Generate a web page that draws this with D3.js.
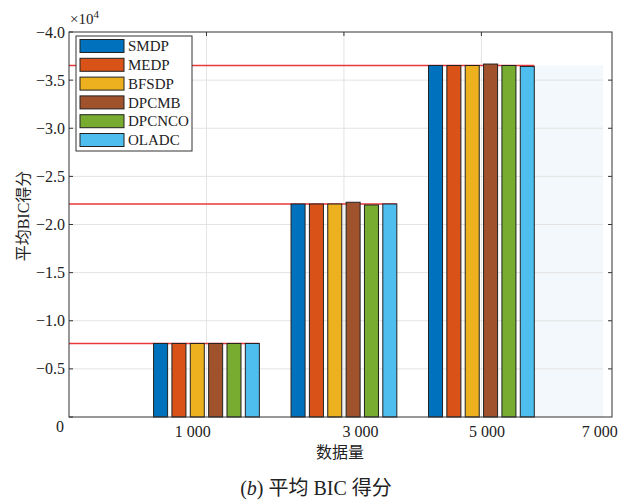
<!DOCTYPE html>
<html>
<head>
<meta charset="utf-8">
<script src="https://cdn.jsdelivr.net/npm/d3@7"></script>
<style>
  body { margin: 0; background: #fff; }
  text { font-family: "Liberation Serif", "Noto Sans CJK SC", serif; fill: #222; }
</style>
</head>
<body>
<svg id="chart" width="627" height="502"></svg>
<script>
// data (values in units of 1e4)
let methods = ["SMDP", "MEDP", "BFSDP", "DPCMB", "DPCNCO", "OLADC"]
let groups = [1, 2, 3]
let smdp   = [-0.764, -2.213, -3.652]
let medp   = [-0.764, -2.213, -3.652]
let bfsdp  = [-0.764, -2.213, -3.652]
let dpcmb  = [-0.764, -2.231, -3.667]
let dpcnco = [-0.764, -2.203, -3.652]
let oladc  = [-0.764, -2.213, -3.642]
let xTickLabels = ["1 000", "3 000", "5 000", "7 000"]
let xTickSpots = [0.9, 2.12, 3.04, 3.86]
let yTicks = [0, -0.5, -1, -1.5, -2, -2.5, -3, -3.5, -4]

let series = [smdp, medp, bfsdp, dpcmb, dpcnco, oladc]
let colors = ["#0072bd", "#d95319", "#edb120", "#a0522d", "#77ac30", "#4dbeee"]

let svg = d3.select("#chart")

let plotVars = ({ left: 69, right: 612, top: 32, bottom: 417, gridEnd: 3.885 })

let xScale = d3.scaleLinear().domain([0, 3.95]).range([plotVars.left, plotVars.right])
let yScale = d3.scaleLinear().domain([0, -4]).range([plotVars.bottom, plotVars.top])

let barPitch = 0.1335
let barWidth = 0.102
let groupEnd = g => g + 2.5 * barPitch + barWidth / 2

// light fill behind the last group
svg.append("rect")
    .attr("x", xScale(groupEnd(3)))
    .attr("y", yScale(d3.min(smdp)))
    .attr("width", xScale(plotVars.gridEnd) - xScale(groupEnd(3)))
    .attr("height", yScale(0) - yScale(d3.min(smdp)))
    .style("fill", "#f2f8fb")

// gridlines
svg.append("g").selectAll("line")
    .data(yTicks.filter(d => d != 0 && d != -4))
    .enter().append("line")
    .attr("x1", xScale(0)).attr("x2", xScale(plotVars.gridEnd))
    .attr("y1", d => yScale(d)).attr("y2", d => yScale(d))
    .style("stroke", "#e3e3e3").style("stroke-width", 1)

svg.append("g").selectAll("line")
    .data(groups)
    .enter().append("line")
    .attr("x1", d => xScale(d)).attr("x2", d => xScale(d))
    .attr("y1", yScale(-4)).attr("y2", yScale(0))
    .style("stroke", "#e3e3e3").style("stroke-width", 1)

// red reference lines
svg.append("g").selectAll("line")
    .data(smdp)
    .enter().append("line")
    .attr("x1", xScale(0))
    .attr("x2", (d, j) => xScale(groupEnd(groups[j])))
    .attr("y1", d => yScale(d)).attr("y2", d => yScale(d))
    .style("stroke", "#e8393a").style("stroke-width", 1.5)

// bars
series.forEach(function (vals, i) {
    svg.append("g").selectAll("rect")
        .data(vals)
        .enter().append("rect")
        .attr("x", (d, j) => xScale(groups[j] + (i - 2.5) * barPitch - barWidth / 2))
        .attr("width", xScale(barWidth) - xScale(0))
        .attr("y", d => yScale(d))
        .attr("height", d => yScale(0) - yScale(d))
        .style("fill", colors[i])
        .style("stroke", "#222")
        .style("stroke-width", 1)
})

// frame
svg.append("rect")
    .attr("x", plotVars.left).attr("y", plotVars.top)
    .attr("width", plotVars.right - plotVars.left)
    .attr("height", plotVars.bottom - plotVars.top)
    .style("fill", "none").style("stroke", "#333").style("stroke-width", 1)

// y axis ticks and labels
let yAxis = svg.append("g")
yAxis.selectAll("line.l")
    .data(yTicks).enter().append("line")
    .attr("class", "l")
    .attr("x1", plotVars.left).attr("x2", plotVars.left + 4)
    .attr("y1", d => yScale(d)).attr("y2", d => yScale(d))
    .style("stroke", "#333")
yAxis.selectAll("line.r")
    .data(yTicks.filter(d => d != 0 && d != -4)).enter().append("line")
    .attr("class", "r")
    .attr("x1", plotVars.right - 4).attr("x2", plotVars.right)
    .attr("y1", d => yScale(d)).attr("y2", d => yScale(d))
    .style("stroke", "#333")
yAxis.selectAll("text")
    .data(yTicks).enter().append("text")
    .attr("x", d => d == 0 ? 64 : 65)
    .attr("y", d => yScale(d))
    .attr("dy", d => d == 0 ? "0.95em" : "0.35em")
    .style("text-anchor", "end")
    .style("font-size", "16px")
    .text(d => d == 0 ? "0" : "\u2212" + d3.format(".1f")(-d))

// top ticks
svg.append("g").selectAll("line")
    .data(groups).enter().append("line")
    .attr("x1", d => xScale(d)).attr("x2", d => xScale(d))
    .attr("y1", plotVars.top).attr("y2", plotVars.top + 4)
    .style("stroke", "#333")

// x tick labels
svg.append("g").selectAll("text")
    .data(xTickLabels).enter().append("text")
    .attr("x", (d, i) => xScale(xTickSpots[i]))
    .attr("y", 437)
    .style("text-anchor", "middle")
    .style("font-size", "16px")
    .text(d => d)

// exponent
let expo = svg.append("text").attr("x", 70).attr("y", 24).style("font-size", "15px")
expo.append("tspan").text("\u00d710")
expo.append("tspan").attr("dy", -6).style("font-size", "11px").text("4")

// axis titles
svg.append("text")
    .attr("transform", "translate(29, 216) rotate(-90)")
    .style("text-anchor", "middle")
    .style("font-size", "16px")
    .text("平均BIC得分")

svg.append("text")
    .attr("x", 340).attr("y", 458)
    .style("text-anchor", "middle")
    .style("font-size", "16px")
    .text("数据量")

let cap = svg.append("text")
    .attr("x", 316).attr("y", 495)
    .style("text-anchor", "middle")
    .style("font-size", "20px")
cap.append("tspan").text("(")
cap.append("tspan").style("font-style", "italic").text("b")
cap.append("tspan").text(") 平均 BIC 得分")

// legend
let legend = svg.append("g")
legend.append("rect")
    .attr("x", 76).attr("y", 36).attr("width", 116).attr("height", 115)
    .style("fill", "#fff").style("stroke", "#333").style("stroke-width", 1)
methods.forEach(function (m, i) {
    legend.append("rect")
        .attr("x", 80).attr("y", 39.5 + i * 18.8).attr("width", 44).attr("height", 13)
        .style("fill", colors[i]).style("stroke", "#222").style("stroke-width", 1)
    legend.append("text")
        .attr("x", 128).attr("y", 46 + i * 18.8).attr("dy", "0.35em")
        .style("font-size", "15px")
        .text(m)
})
</script>
</body>
</html>
